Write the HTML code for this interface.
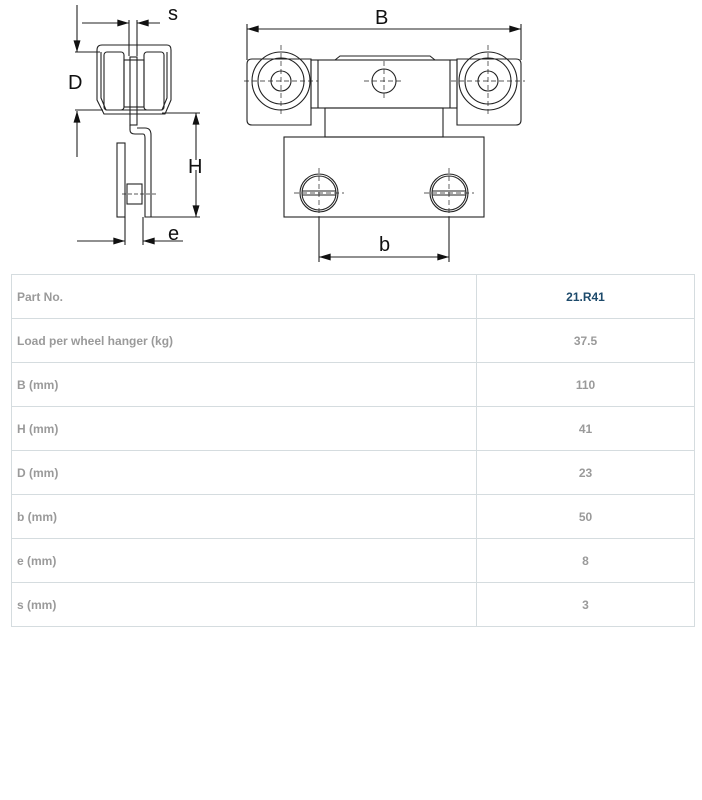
<!DOCTYPE html>
<html><head><meta charset="utf-8"><style>
body{margin:0;background:#fff;width:702px;height:800px;position:relative;overflow:hidden;font-family:"Liberation Sans",sans-serif}
svg{position:absolute;left:0;top:0}
table{position:absolute;left:11px;top:274px;width:684px;border-collapse:collapse}
td{border:1px solid #d5dcdf;height:43px;padding:0 5px;font-size:12px;font-weight:bold;color:#9a9a9a}
td.v{text-align:center;width:207px}
td.p{color:#1d4a6b}
</style></head><body>
<svg width="702" height="270" viewBox="0 0 702 270" fill="none" stroke="#222" stroke-width="1.1">
<defs><marker id="a" viewBox="0 0 10 6" refX="10" refY="3" markerWidth="20" markerHeight="7" markerUnits="userSpaceOnUse" orient="auto"><path d="M0 0L10 3L0 6Z" fill="#111" stroke="none"/></marker></defs>
<g>
<line x1="82" y1="23" x2="129" y2="23" marker-end="url(#a)"/>
<line x1="160" y1="23" x2="137" y2="23" marker-end="url(#a)"/>
<line x1="129" y1="20" x2="129" y2="56"/><line x1="137" y1="20" x2="137" y2="56"/>
<line x1="77" y1="5" x2="77" y2="52" marker-end="url(#a)"/>
<line x1="77" y1="157" x2="77" y2="111" marker-end="url(#a)"/>
<line x1="75" y1="52" x2="100" y2="52"/><line x1="75" y1="110" x2="103" y2="110"/>
<path d="M97 50Q97 45 102 45H167Q171 45 171 50V100L165 114H104L97 100Z"/>
<path d="M101 52V98L106 110H162L167 98V52"/>
<rect x="104" y="52" width="20" height="58" rx="3"/><rect x="144" y="52" width="20" height="58" rx="3"/>
<rect x="124" y="60" width="20" height="47"/>
<rect x="130" y="57" width="7" height="68"/>
<path d="M130 125V130Q130 134 135 134H143Q145 134 145 138V217H151V135Q151 128 145 128H137"/>
<rect x="117" y="143" width="8" height="74"/>
<rect x="127" y="184" width="15" height="20"/>
<line x1="122" y1="194" x2="156" y2="194" stroke-dasharray="4 2" stroke-width=".7"/>
<line x1="162" y1="113" x2="200" y2="113"/><line x1="150" y1="217" x2="200" y2="217"/>
<line x1="196" y1="160" x2="196" y2="113" marker-end="url(#a)"/>
<line x1="196" y1="170" x2="196" y2="217" marker-end="url(#a)"/>
<line x1="125" y1="217" x2="125" y2="245"/><line x1="143" y1="217" x2="143" y2="245"/>
<line x1="77" y1="241" x2="125" y2="241" marker-end="url(#a)"/>
<line x1="183" y1="241" x2="143" y2="241" marker-end="url(#a)"/>
</g>
<g fill="#111" stroke="none" font-size="20" font-family="Liberation Sans, sans-serif">
<text x="168" y="20">s</text><text x="68" y="89">D</text><text x="188" y="173">H</text><text x="168" y="240">e</text>
<text x="375" y="24">B</text><text x="379" y="251">b</text>
</g>
<g>
<line x1="247" y1="24" x2="247" y2="60"/><line x1="521" y1="24" x2="521" y2="60"/>
<line x1="384" y1="29" x2="247" y2="29" marker-end="url(#a)"/>
<line x1="384" y1="29" x2="521" y2="29" marker-end="url(#a)"/>
<path d="M252 59H311V125H252Q247 125 247 120V64Q247 59 252 59Z"/>
<path d="M516 59H457V125H516Q521 125 521 120V64Q521 59 516 59Z"/>
<circle cx="281" cy="81" r="29"/><circle cx="281" cy="81" r="23"/><circle cx="281" cy="81" r="10"/>
<circle cx="488" cy="81" r="29"/><circle cx="488" cy="81" r="23"/><circle cx="488" cy="81" r="10"/>
<rect x="311" y="60" width="146" height="48"/>
<line x1="318" y1="60" x2="318" y2="108"/><line x1="450" y1="60" x2="450" y2="108"/>
<path d="M335 60L340 56H430L435 60"/>
<circle cx="384" cy="81" r="12"/>
<rect x="325" y="108" width="118" height="29"/>
<rect x="284" y="137" width="200" height="80"/>
<circle cx="319" cy="193" r="19"/><circle cx="319" cy="193" r="17"/>
<circle cx="449" cy="193" r="19"/><circle cx="449" cy="193" r="17"/>
<path d="M302 191H336M302 195H336M432 191H466M432 195H466"/>
<g stroke-dasharray="5 3" stroke-width=".7">
<line x1="244" y1="81" x2="318" y2="81"/><line x1="281" y1="45" x2="281" y2="117"/>
<line x1="451" y1="81" x2="525" y2="81"/><line x1="488" y1="45" x2="488" y2="117"/>
<line x1="364" y1="81" x2="404" y2="81"/><line x1="384" y1="61" x2="384" y2="101"/>
<line x1="294" y1="193" x2="344" y2="193"/><line x1="319" y1="168" x2="319" y2="217"/>
<line x1="424" y1="193" x2="474" y2="193"/><line x1="449" y1="168" x2="449" y2="217"/>
</g>
<line x1="319" y1="217" x2="319" y2="262"/><line x1="449" y1="217" x2="449" y2="262"/>
<line x1="384" y1="257" x2="319" y2="257" marker-end="url(#a)"/>
<line x1="384" y1="257" x2="449" y2="257" marker-end="url(#a)"/>
</g>
</svg>
<table>
<tr><td>Part No.</td><td class="v p">21.R41</td></tr>
<tr><td>Load per wheel hanger (kg)</td><td class="v">37.5</td></tr>
<tr><td>B (mm)</td><td class="v">110</td></tr>
<tr><td>H (mm)</td><td class="v">41</td></tr>
<tr><td>D (mm)</td><td class="v">23</td></tr>
<tr><td>b (mm)</td><td class="v">50</td></tr>
<tr><td>e (mm)</td><td class="v">8</td></tr>
<tr><td>s (mm)</td><td class="v">3</td></tr>
</table>
</body></html>
